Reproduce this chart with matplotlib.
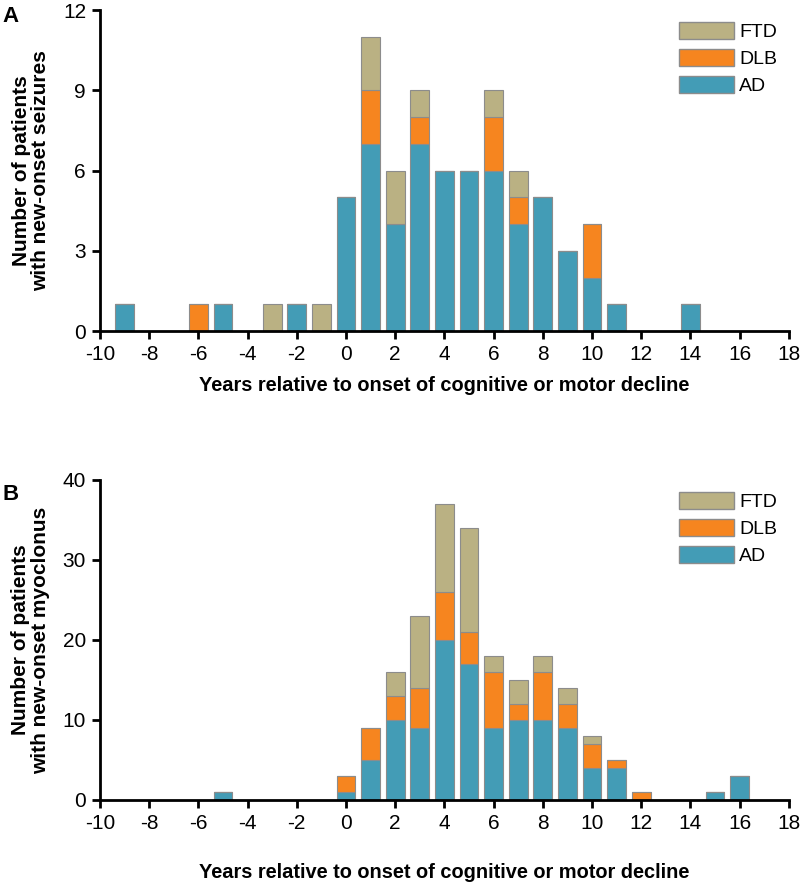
import numpy as np
import matplotlib.pyplot as plt
from matplotlib.patches import Patch

plt.rcParams['font.family'] = ['Liberation Sans', 'DejaVu Sans']
plt.rcParams['axes.unicode_minus'] = False

# Panel A: new-onset seizures
years_a = [-9, -6, -5, -3, -2, -1, 0, 1, 2, 3, 4, 5, 6, 7, 8, 9, 10, 11, 14]
ad_a = [1, 0, 1, 0, 1, 0, 5, 7, 4, 7, 6, 6, 6, 4, 5, 3, 2, 1, 1]
dlb_a = [0, 1, 0, 0, 0, 0, 0, 2, 0, 1, 0, 0, 2, 1, 0, 0, 2, 0, 0]
ftd_a = [0, 0, 0, 1, 0, 1, 0, 2, 2, 1, 0, 0, 1, 1, 0, 0, 0, 0, 0]

# Panel B: new-onset myoclonus
years_b = [-5, 0, 1, 2, 3, 4, 5, 6, 7, 8, 9, 10, 11, 12, 15, 16]
ad_b = [1, 1, 5, 10, 9, 20, 17, 9, 10, 10, 9, 4, 4, 0, 1, 3]
dlb_b = [0, 2, 4, 3, 5, 6, 4, 7, 2, 6, 3, 3, 1, 1, 0, 0]
ftd_b = [0, 0, 0, 3, 9, 11, 13, 2, 3, 2, 2, 1, 0, 0, 0, 0]

c_ad = '#439cb6'
c_dlb = '#f6851f'
c_ftd = '#bab183'
edge = '#8c8c8c'

fig = plt.figure(figsize=(8, 8.83), dpi=100)
ax_a = fig.add_axes([0.125, 0.6251, 0.861, 0.3635])
ax_b = fig.add_axes([0.125, 0.094, 0.861, 0.3624])


def draw_panel(ax, years, ad, dlb, ftd, ymax, ystep, ylabel, xpad):
    years = np.array(years)
    ad = np.array(ad)
    dlb = np.array(dlb)
    ftd = np.array(ftd)
    w = 0.77
    ax.bar(years, ad, width=w, color=c_ad, edgecolor=edge, linewidth=0.8)
    ax.bar(years, dlb, width=w, bottom=ad, color=c_dlb, edgecolor=edge, linewidth=0.8)
    ax.bar(years, ftd, width=w, bottom=ad + dlb, color=c_ftd, edgecolor=edge, linewidth=0.8)

    ax.set_xlim(-10, 18)
    ax.set_ylim(0, ymax)
    ax.set_xticks(np.arange(-10, 19, 2))
    ax.set_yticks(np.arange(0, ymax + 1, ystep))
    for s in ['top', 'right']:
        ax.spines[s].set_visible(False)
    for s in ['left', 'bottom']:
        ax.spines[s].set_linewidth(2)
    ax.tick_params(direction='out', length=6, width=2, labelsize=15, pad=4)
    ax.set_xlabel('Years relative to onset of cognitive or motor decline',
                  fontsize=14.4, fontweight='bold', labelpad=xpad)
    ax.set_ylabel(ylabel, fontsize=15, fontweight='bold', labelpad=9,
                  linespacing=1.05)

    handles = [Patch(facecolor=c_ftd, edgecolor=edge, label='FTD'),
               Patch(facecolor=c_dlb, edgecolor=edge, label='DLB'),
               Patch(facecolor=c_ad, edgecolor=edge, label='AD')]
    ax.legend(handles=handles, loc='upper right', frameon=False, fontsize=14,
              handlelength=2.85, handleheight=1.0, handletextpad=0.25,
              labelspacing=0.4, borderaxespad=0.2, bbox_to_anchor=(1.0, 1.0))


draw_panel(ax_a, years_a, ad_a, dlb_a, ftd_a, 12, 3,
           'Number of patients\nwith new-onset seizures', 9)
draw_panel(ax_b, years_b, ad_b, dlb_b, ftd_b, 40, 10,
           'Number of patients\nwith new-onset myoclonus', 22)

fig.text(0.003, 0.993, 'A', fontsize=16, fontweight='bold', va='top')
fig.text(0.003, 0.452, 'B', fontsize=16, fontweight='bold', va='top')

fig.savefig('out.png', dpi=100)
